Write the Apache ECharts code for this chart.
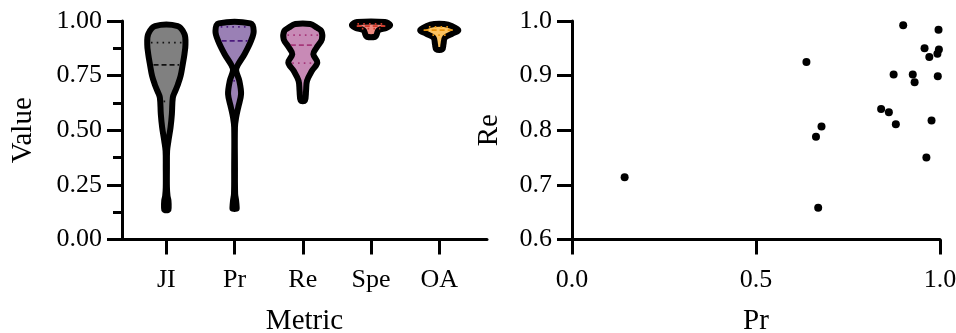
<!DOCTYPE html>
<html>
<head>
<meta charset="utf-8">
<script src="https://cdn.jsdelivr.net/npm/echarts@6/dist/echarts.min.js"></script>
<style>
html, body { margin: 0; padding: 0; background: #fff; }
#main { width: 956px; height: 333px; }
</style>
</head>
<body>
<div id="main"></div>
<script>
// categories of the violin panel
var metrics = ['JI', 'Pr', 'Re', 'Spe', 'OA'];
var violinFill = ['#808080', '#9a80b5', '#c88ab6', '#ee8a80', '#fcc25f'];
var quartileColor = ['#111111', '#4b1a7c', '#a6377a', '#d23a2a', '#e8920a'];

// violin outlines: value levels (top -> bottom) and relative density (1 = widest)
var jiLevels  = [0.977, 0.94, 0.893, 0.85, 0.802, 0.75, 0.711, 0.68, 0.65, 0.574, 0.513, 0.452, 0.406, 0.33, 0.24, 0.20, 0.178, 0.147, 0.136];
var jiDensity = [0.6, 0.95, 1.0, 0.95, 0.86, 0.75, 0.61, 0.47, 0.34, 0.29, 0.22, 0.11, 0.04, 0.03, 0.03, 0.06, 0.11, 0.12, 0.1];
var prLevels  = [0.989, 0.954, 0.909, 0.848, 0.80, 0.775, 0.726, 0.665, 0.604, 0.558, 0.513, 0.33, 0.209, 0.178, 0.147, 0.141];
var prDensity = [0.83, 1.0, 0.86, 0.52, 0.18, 0.08, 0.25, 0.34, 0.19, 0.08, 0.02, 0.02, 0.03, 0.08, 0.11, 0.1];
var reLevels  = [0.986, 0.97, 0.954, 0.916, 0.878, 0.848, 0.81, 0.772, 0.726, 0.68, 0.636];
var reDensity = [0.39, 0.73, 0.97, 1.0, 0.72, 0.55, 0.76, 0.48, 0.22, 0.17, 0.11];
var speLevels  = [0.995, 0.982, 0.969, 0.958, 0.939, 0.928];
var speDensity = [0.73, 1.0, 0.82, 0.39, 0.3, 0.23];
var oaLevels  = [0.986, 0.977, 0.958, 0.942, 0.924, 0.893, 0.871];
var oaDensity = [0.26, 0.65, 1.0, 0.69, 0.3, 0.22, 0.16];

// Q1, median, Q3 per metric
var jiQuartiles  = [0.632, 0.799, 0.901];
var prQuartiles  = [0.726, 0.909, 0.973];
var reQuartiles  = [0.807, 0.890, 0.935];
var speQuartiles = [0.965, 0.977, 0.987];
var oaQuartiles  = [0.935, 0.958, 0.973];

// scatter panel: precision vs recall per image
var prPoints = [0.900, 0.996, 0.958, 0.997, 0.993, 0.971, 0.637, 0.874, 0.926, 0.994, 0.931, 0.840, 0.861, 0.880, 0.977, 0.678, 0.663, 0.963, 0.143, 0.669];
var rePoints = [0.992, 0.984, 0.950, 0.948, 0.940, 0.934, 0.925, 0.902, 0.902, 0.899, 0.888, 0.839, 0.833, 0.811, 0.818, 0.807, 0.788, 0.750, 0.714, 0.658];

var violinLevels = [jiLevels, prLevels, reLevels, speLevels, oaLevels];
var violinDensity = [jiDensity, prDensity, reDensity, speDensity, oaDensity];
var violinQuartiles = [jiQuartiles, prQuartiles, reQuartiles, speQuartiles, oaQuartiles];

var HALF = 0.28; // half width of the widest violin, in category units
var FONT = 'Liberation Serif';

function widthAt(levels, dens, v) {
    for (var k = 0; k < levels.length - 1; k++) {
        if (v <= levels[k] && v >= levels[k + 1]) {
            var t = (levels[k] - v) / (levels[k] - levels[k + 1]);
            return dens[k] + t * (dens[k + 1] - dens[k]);
        }
    }
    return 0;
}

function renderViolin(params, api) {
    var i = api.value(0);
    var levels = violinLevels[i];
    var dens = violinDensity[i];
    var right = [], left = [];
    for (var k = 0; k < levels.length; k++) {
        right.push(api.coord([i + dens[k] * HALF, levels[k]]));
        left.unshift(api.coord([i - dens[k] * HALF, levels[k]]));
    }
    var children = [{
        type: 'polygon',
        shape: { points: right.concat(left), smooth: 0.35 },
        style: { fill: violinFill[i], stroke: '#000', lineWidth: 6, lineJoin: 'round' }
    }];
    violinQuartiles[i].forEach(function (q, j) {
        var w = widthAt(levels, dens, q) * HALF;
        var a = api.coord([i - w, q]);
        var b = api.coord([i + w, q]);
        var x1 = a[0] + 3.5, x2 = b[0] - 3.5;
        if (x2 - x1 < 2) return;
        children.push({
            type: 'line',
            shape: { x1: x1, y1: a[1], x2: x2, y2: b[1] },
            style: {
                stroke: quartileColor[i],
                lineWidth: 1.8,
                lineDash: j === 1 ? [5, 3] : [1.6, 4.2]
            }
        });
    });
    return { type: 'group', children: children };
}

var axisLine = { show: true, onZero: false, lineStyle: { color: '#000', width: 3 } };
var axisTick = { show: true, length: 15, lineStyle: { color: '#000', width: 3 } };
var labelStyle = { color: '#000', fontFamily: FONT, fontSize: 26 };
var nameStyle = { color: '#000', fontFamily: FONT, fontSize: 29 };

var chart = echarts.init(document.getElementById('main'));
var option = {
    backgroundColor: '#fff',
    animation: false,
    grid: [
        { left: 122, right: 469, top: 21, bottom: 93.5, outerBoundsMode: 'none' },
        { left: 572, right: 16, top: 21, bottom: 93.5, outerBoundsMode: 'none' }
    ],
    xAxis: [{
        gridIndex: 0,
        type: 'value',
        min: -0.65,
        max: 4.7,
        name: 'Metric',
        nameLocation: 'middle',
        nameGap: 67,
        nameTextStyle: nameStyle,
        axisLine: axisLine,
        axisTick: Object.assign({ customValues: [0, 1, 2, 3, 4] }, axisTick),
        axisLabel: Object.assign({
            customValues: [0, 1, 2, 3, 4],
            margin: 28,
            formatter: function (v) { return metrics[Math.round(v)]; }
        }, labelStyle),
        splitLine: { show: false }
    }, {
        gridIndex: 1,
        type: 'value',
        min: 0,
        max: 1,
        interval: 0.5,
        name: 'Pr',
        nameLocation: 'middle',
        nameGap: 67,
        nameTextStyle: nameStyle,
        axisLine: axisLine,
        axisTick: axisTick,
        axisLabel: Object.assign({
            margin: 28,
            formatter: function (v) { return v.toFixed(1); }
        }, labelStyle),
        splitLine: { show: false }
    }],
    yAxis: [{
        gridIndex: 0,
        type: 'value',
        min: 0,
        max: 1,
        interval: 0.25,
        name: 'Value',
        nameLocation: 'middle',
        nameGap: 84,
        nameTextStyle: nameStyle,
        axisLine: axisLine,
        axisTick: axisTick,
        minorTick: { show: true, splitNumber: 2, length: 9, lineStyle: { color: '#000', width: 3 } },
        axisLabel: Object.assign({
            margin: 20,
            formatter: function (v) { return v.toFixed(2); }
        }, labelStyle),
        splitLine: { show: false }
    }, {
        gridIndex: 1,
        type: 'value',
        min: 0.6,
        max: 1,
        interval: 0.1,
        name: 'Re',
        nameLocation: 'middle',
        nameGap: 68,
        nameTextStyle: nameStyle,
        axisLine: axisLine,
        axisTick: axisTick,
        axisLabel: Object.assign({
            margin: 20,
            formatter: function (v) { return v.toFixed(1); }
        }, labelStyle),
        splitLine: { show: false }
    }],
    series: [{
        type: 'custom',
        xAxisIndex: 0,
        yAxisIndex: 0,
        clip: false,
        renderItem: renderViolin,
        encode: { x: 0, y: 1 },
        data: metrics.map(function (m, i) { return [i, violinLevels[i][0]]; })
    }, {
        type: 'scatter',
        xAxisIndex: 1,
        yAxisIndex: 1,
        symbolSize: 8,
        itemStyle: { color: '#000', opacity: 1 },
        data: prPoints.map(function (p, i) { return [p, rePoints[i]]; })
    }]
};
chart.setOption(option);
</script>
</body>
</html>
